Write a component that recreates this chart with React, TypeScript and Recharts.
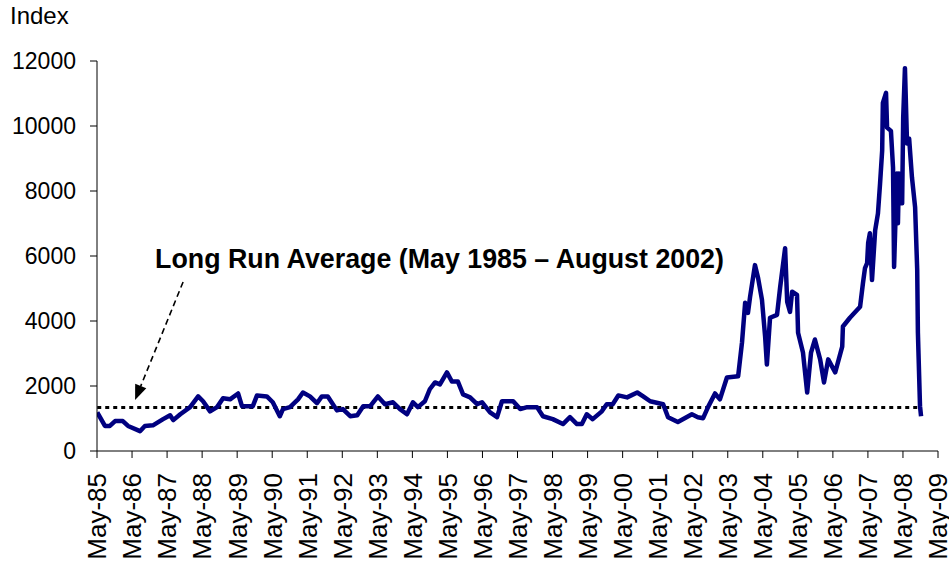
import React from 'react';
import { LineChart, Line, XAxis, YAxis, ReferenceLine } from 'recharts';

// decimal year of each reading
const years = [
  1985.34, 1985.56, 1985.7, 1985.85, 1986.07, 1986.22, 1986.56, 1986.7, 1986.93, 1987.22,
  1987.42, 1987.51, 1987.71, 1987.99, 1988.22, 1988.36, 1988.56, 1988.76, 1988.93, 1989.13,
  1989.36, 1989.47, 1989.78, 1989.9, 1990.18, 1990.35, 1990.55, 1990.64, 1990.84, 1991.07,
  1991.21, 1991.41, 1991.61, 1991.75, 1991.92, 1992.18, 1992.35, 1992.56, 1992.76, 1992.93,
  1993.13, 1993.35, 1993.55, 1993.78, 1993.98, 1994.18, 1994.35, 1994.49, 1994.69, 1994.83,
  1994.98, 1995.12, 1995.32, 1995.46, 1995.63, 1995.78, 1995.98, 1996.18, 1996.32, 1996.55,
  1996.75, 1996.89, 1997.21, 1997.41, 1997.61, 1997.89, 1998.06, 1998.34, 1998.63, 1998.83,
  1999.03, 1999.17, 1999.31, 1999.48, 1999.74, 1999.88, 2000.05, 2000.21, 2000.46, 2000.75,
  2000.92, 2001.12, 2001.49, 2001.63, 2001.91, 2002.31, 2002.48, 2002.63, 2002.77, 2002.97,
  2003.11, 2003.31, 2003.63, 2003.74, 2003.83, 2003.91, 2003.97, 2004.11, 2004.2, 2004.31,
  2004.4, 2004.45, 2004.54, 2004.74, 2004.83, 2004.97, 2005.03, 2005.11, 2005.17, 2005.31,
  2005.34, 2005.48, 2005.6, 2005.71, 2005.82, 2005.97, 2006.08, 2006.2, 2006.4, 2006.6,
  2006.62, 2006.82, 2007.11, 2007.19, 2007.25, 2007.31, 2007.34, 2007.39, 2007.45, 2007.54,
  2007.62, 2007.68, 2007.74, 2007.76, 2007.85, 2007.88, 2007.99, 2008.05, 2008.08, 2008.16,
  2008.19, 2008.22, 2008.31, 2008.34, 2008.39, 2008.45, 2008.51, 2008.59, 2008.68, 2008.74,
  2008.76, 2008.82, 2008.85,
];

const indexValues = [
  1190, 770, 770, 920, 920, 770, 610, 770, 790, 980,
  1100, 950, 1130, 1350, 1680, 1530, 1220, 1350, 1620, 1590,
  1770, 1380, 1380, 1710, 1680, 1500, 1070, 1290, 1350, 1590,
  1800, 1680, 1470, 1680, 1680, 1250, 1290, 1070, 1100, 1380,
  1380, 1680, 1440, 1500, 1290, 1130, 1500, 1350, 1530, 1900,
  2110, 2050, 2420, 2140, 2140, 1740, 1650, 1440, 1500, 1190,
  1040, 1530, 1530, 1290, 1350, 1350, 1070, 980, 830, 1040,
  830, 830, 1130, 980, 1220, 1440, 1440, 1710, 1650, 1800,
  1680, 1530, 1440, 1040, 890, 1130, 1040, 1010, 1350, 1770,
  1590, 2260, 2300, 3340, 4560, 4250, 4740, 5720, 5320, 4650,
  3520, 2660, 4100, 4190, 5050, 6240, 4590, 4280, 4900, 4800,
  3640, 3030, 1800, 3030, 3430, 2820, 2110, 2820, 2420, 3210,
  3830, 4100, 4440, 5150, 5630, 5780, 6400, 6700, 5260, 6790,
  7310, 8230, 9240, 10710, 11020, 9950, 9850, 8720, 5660, 8540,
  7010, 8540, 7620, 10250, 11780, 9460, 9610, 8420, 7500, 5570,
  3640, 1380, 1070,
];

const tickLabels = [
  'May-85', 'May-86', 'May-87', 'May-88', 'May-89', 'May-90', 'May-91', 'May-92',
  'May-93', 'May-94', 'May-95', 'May-96', 'May-97', 'May-98', 'May-99', 'May-00',
  'May-01', 'May-02', 'May-03', 'May-04', 'May-05', 'May-06', 'May-07', 'May-08', 'May-09',
];
const yTicks = [0, 2000, 4000, 6000, 8000, 10000, 12000];

const longRunAverage = 1340;
const averageSpan = [1985.34, 2008.8];
const averageLabel = 'Long Run Average (May 1985 \u2013 August 2002)';
// arrow from the label down to the average line
const arrowFrom = { x: 1987.79, y: 5200 };
const arrowTo = { x: 1986.42, y: 1570 };

const FONT = 'Arial, "Liberation Sans", sans-serif';
const firstTick = 1985 + 4 / 12;
const xTicks = tickLabels.map((_, i) => firstTick + i);

const data = years.map((t, i) => ({ t, v: indexValues[i] }));

const XTick = (props: any) => {
  const { x, payload } = props;
  const i = Math.round(payload.value - firstTick);
  const y = 473; // top of the rotated label
  return (
    <text
      x={x}
      y={y}
      dy="0.36em"
      transform={`rotate(-90 ${x} ${y})`}
      textAnchor="end"
      fontFamily={FONT}
      fontSize={26}
      fill="#000"
    >
      {tickLabels[i]}
    </text>
  );
};

const DashLine = (props: any) => {
  const { x1, y1, x2, y2 } = props;
  if (x1 == null) return null;
  return <line x1={x1} y1={y1} x2={x2} y2={y2} stroke="#000" strokeWidth={3} strokeDasharray="4 4" />;
};

const Arrow = (props: any) => {
  const { x1, y1, x2, y2 } = props;
  if (x1 == null) return null;
  const ang = Math.atan2(y2 - y1, x2 - x1);
  const len = 15;
  const w = 6;
  const bx = x2 - len * Math.cos(ang);
  const by = y2 - len * Math.sin(ang);
  const px = -Math.sin(ang) * w;
  const py = Math.cos(ang) * w;
  return (
    <g>
      <text
        x={x1 - 28}
        y={y1 - 14}
        fontFamily={FONT}
        fontSize={26.8}
        fontWeight="bold"
        fill="#000"
      >
        {averageLabel}
      </text>
      <line x1={x1} y1={y1} x2={bx} y2={by} stroke="#000" strokeWidth={1.6} strokeDasharray="6 4" />
      <polygon points={`${x2},${y2} ${bx + px},${by + py} ${bx - px},${by - py}`} fill="#000" />
    </g>
  );
};

export default function App() {
  return (
    <div style={{ position: 'absolute', left: 0, top: 0, width: 949, height: 565, background: '#fff' }}>
      <div
        style={{
          position: 'absolute',
          left: 10,
          top: 2,
          fontFamily: FONT,
          fontSize: 24,
          color: '#000',
        }}
      >
        Index
      </div>
      <LineChart width={949} height={565} data={data} margin={{ top: 61, right: 11, left: 0, bottom: 0 }}>
        <XAxis
          dataKey="t"
          type="number"
          domain={[firstTick, firstTick + 24]}
          ticks={xTicks}
          interval={0}
          height={114}
          tickSize={7}
          tickMargin={14}
          tick={<XTick />}
          stroke="#000"
          allowDataOverflow
        />
        <YAxis
          type="number"
          domain={[0, 12000]}
          ticks={yTicks}
          interval={0}
          width={97}
          tickSize={7}
          tickMargin={14}
          stroke="#000"
          tick={{ fill: '#000', fontSize: 23, fontFamily: FONT }}
        />
        <ReferenceLine
          segment={[
            { x: averageSpan[0], y: longRunAverage },
            { x: averageSpan[1], y: longRunAverage },
          ]}
          ifOverflow="visible"
          shape={<DashLine />}
        />
        <ReferenceLine segment={[arrowFrom, arrowTo]} shape={<Arrow />} />
        <Line
          dataKey="v"
          type="linear"
          stroke="#000080"
          strokeWidth={4.5}
          strokeLinejoin="round"
          dot={false}
          isAnimationActive={false}
        />
      </LineChart>
    </div>
  );
}
